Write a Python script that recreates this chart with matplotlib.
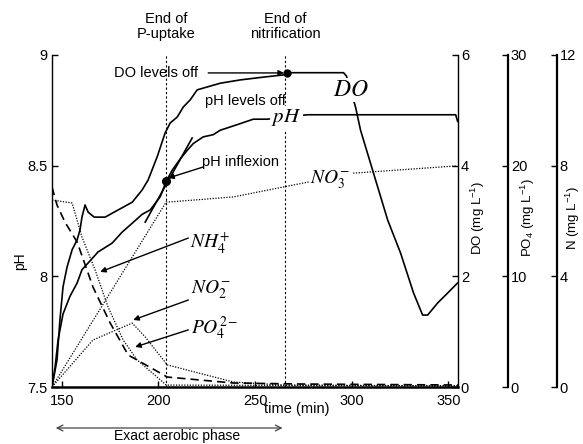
import matplotlib
matplotlib.use("Agg")
import matplotlib.pyplot as plt

plt.rcParams["font.family"] = ["Liberation Sans", "DejaVu Sans"]
plt.rcParams["mathtext.fontset"] = "stix"
plt.rcParams["font.size"] = 10.5

# DO (mg/L)
t_do = [145, 147.6, 149.1, 150.7, 152.8, 155.4, 158.0, 159.5, 160.5, 162.1, 163.7,
        166.8, 172.5, 176.1, 181.3, 186.5, 191.6, 194.7, 199.4, 203.5, 206.1, 209.8,
        212.9, 216.5, 220.1, 232.0, 242.4, 254.3, 264.7, 268.3, 295.8, 297.3, 302.0,
        304.6, 318.6, 325.3, 332.0, 336.7, 339.3, 344.5, 349.7, 354.8]
do = [0, 0.49, 1.21, 1.81, 2.17, 2.48, 2.66, 2.84, 3.07, 3.29, 3.16,
      3.07, 3.07, 3.14, 3.24, 3.34, 3.56, 3.74, 4.16, 4.59, 4.77, 4.88,
      5.06, 5.19, 5.37, 5.49, 5.55, 5.60, 5.64, 5.68, 5.68, 5.62, 5.06,
      4.64, 3.02, 2.42, 1.70, 1.30, 1.30, 1.52, 1.70, 1.88]

# pH
t_ph = [145, 146.6, 148.1, 150.7, 154.3, 158.0, 160.5, 164.7, 168.8, 176.1, 181.3,
        186.5, 191.6, 195.8, 201.0, 204.1, 207.2, 211.3, 215.0, 218.1, 223.2, 228.4,
        232.0, 242.4, 249.1, 256.4, 277.1, 353.8, 354.8]
ph = [7.5, 7.59, 7.71, 7.83, 7.91, 7.97, 8.03, 8.07, 8.11, 8.15, 8.20,
      8.24, 8.28, 8.30, 8.36, 8.43, 8.48, 8.53, 8.57, 8.60, 8.63, 8.64,
      8.66, 8.69, 8.71, 8.71, 8.73, 8.73, 8.70]

# PO4 (mg/L)
t_po4 = [145, 147.6, 151.7, 158.0, 166.2, 175.1, 184.4, 189.0, 201.0, 204.6, 238.8, 273.5, 355]
po4 = [18.07, 16.44, 14.9, 13.1, 9.03, 5.78, 2.89, 2.44, 1.26, 0.90, 0.36, 0.27, 0.18]

# N species (mg/L)
t_nh4 = [145, 155.4, 160.5, 167.3, 174.0, 181.8, 189.0, 204.1, 355]
nh4 = [6.76, 6.65, 5.42, 4.23, 2.89, 1.70, 0.98, 0.07, 0.04]
t_no2 = [145, 166.2, 186.5, 193.2, 204.6, 238.8, 264.7, 355]
no2 = [0, 1.70, 2.31, 1.81, 0.80, 0.18, 0.07, 0.04]
t_no3 = [145, 204.1, 206.2, 238.8, 264.7, 301.0, 353.8]
no3 = [0, 6.69, 6.69, 6.87, 7.23, 7.73, 7.99]

# event markers
t_p_uptake = 204.1
t_nitrif = 265.7
inflex = (204.1, 8.43)
tangent_t = [193.2, 217.5]
tangent_ph = [8.245, 8.625]
do_off = (266.5, 5.68)

fig = plt.figure(figsize=(5.83, 4.44), dpi=100)
ax = fig.add_axes([52 / 583, 1 - 387 / 444, 406 / 583, 332 / 444])
ax_do = ax.twinx()
ax_po4 = ax.twinx()
ax_n = ax.twinx()

ax.set_xlim(145, 355)
ax.set_ylim(7.5, 9)
ax.set_xticks([150, 200, 250, 300, 350])
ax.set_yticks([7.5, 8, 8.5, 9])
ax.set_yticklabels(["7.5", "8", "8.5", "9"])
ax.tick_params(direction="in", length=4, width=1, labelsize=10.5)
ax.tick_params(axis="x", pad=5)
ax.spines["top"].set_visible(False)
ax.spines["right"].set_visible(False)
ax.spines["bottom"].set_linewidth(1.8)
ax.spines["left"].set_linewidth(1.0)
ax.set_ylabel("pH", fontsize=10)
ax.yaxis.set_label_coords(-0.062, 0.38)

for a, lim, ticks, pos in [(ax_do, (0, 6), [0, 2, 4, 6], 1.0),
                           (ax_po4, (0, 30), [0, 10, 20, 30], 1 + 50 / 406),
                           (ax_n, (0, 12), [0, 4, 8, 12], 1 + 99 / 406)]:
    a.set_ylim(*lim)
    a.set_yticks(ticks)
    a.tick_params(direction="in", length=4, width=1, labelsize=10.5, pad=2)
    for s in ["top", "bottom", "left"]:
        a.spines[s].set_visible(False)
    a.spines["right"].set_position(("axes", pos))
    a.spines["right"].set_linewidth(1.0 if a is ax_do else 1.6)

ax_do.set_ylabel(r"DO (mg L$\mathregular{^{-1}}$)", fontsize=9.5)
ax_po4.set_ylabel(r"PO$\mathregular{_4}$ (mg L$\mathregular{^{-1}}$)", fontsize=9.5)
ax_n.set_ylabel(r"N (mg L$\mathregular{^{-1}}$)", fontsize=9.5)
ax_do.yaxis.set_label_coords(1.027, 0.51)
ax_po4.yaxis.set_label_coords(1.150, 0.51)
ax_n.yaxis.set_label_coords(1.260, 0.51)

# curves
ax.plot(t_ph, ph, color="k", lw=1.2)
ax.plot(tangent_t, tangent_ph, color="k", lw=1.2)
ax.plot(*inflex, "o", color="k", ms=5.5)
ax_do.plot(t_do, do, color="k", lw=1.2)
ax_do.plot(*do_off, "o", color="k", ms=5)
ax_po4.plot(t_po4, po4, color="k", lw=1.2, dashes=(5, 3))
ax_n.plot(t_nh4, nh4, color="k", lw=0.9, ls=(0, (1, 1.2)))
ax_n.plot(t_no2, no2, color="k", lw=0.9, ls=(0, (1, 1.2)))
ax_n.plot(t_no3, no3, color="k", lw=0.9, ls=(0, (1, 1.2)))

for tv in (t_p_uptake, t_nitrif):
    ax.axvline(tv, color="k", lw=0.8, ls=(0, (2, 2)))

xt = ax.get_xaxis_transform()
ax.text(t_p_uptake, 1.087, "End of\nP-uptake", transform=xt, ha="center", va="center",
        fontsize=10.5, linespacing=1.1)
ax.text(t_nitrif, 1.087, "End of\nnitrification", transform=xt, ha="center", va="center",
        fontsize=10.5, linespacing=1.1)

ax.text(0.603, -0.065, "time (min)", transform=ax.transAxes, ha="center", va="center", fontsize=10.5)
ax.annotate("", xy=(145.5, -0.1235), xytext=(265.7, -0.1235), xycoords=xt, textcoords=xt,
            arrowprops=dict(arrowstyle="<->", color="#444444", lw=0.9), annotation_clip=False)
ax.text(0.308, -0.147, "Exact aerobic phase", transform=ax.transAxes, ha="center",
        va="center", fontsize=10)

# labels on top axes, in pH data coordinates
T = ax.transData
wb = dict(facecolor="white", edgecolor="none", pad=1)
arrow = dict(arrowstyle="-|>", color="k", lw=1.0, mutation_scale=8, shrinkA=0, shrinkB=0)

ax_n.text(198.9, 8.919, "DO levels off", transform=T, ha="center", va="center", fontsize=10.5)
ax_n.annotate("", xy=(265.0, 8.919), xytext=(225.8, 8.919), xycoords=T, textcoords=T,
              arrowprops=arrow)
ax_n.text(245.0, 8.79, "pH levels off", transform=T, ha="center", va="center", fontsize=10.5)
ax_n.text(242.4, 8.517, "pH inflexion", transform=T, ha="center", va="center", fontsize=10.5)
ax_n.annotate("", xy=(205.1, 8.444), xytext=(223.2, 8.494), xycoords=T, textcoords=T,
              arrowprops=arrow)

ax_n.text(266.2, 8.716, "$pH$", transform=T, ha="center", va="center", fontsize=15, bbox=wb, zorder=5)
ax_n.text(299.4, 8.842, "$DO$", transform=T, ha="center", va="center", fontsize=17, bbox=wb, zorder=5)
ax_n.text(289.0, 8.435, "$NO_3^{-}$", transform=T, ha="center", va="center", fontsize=14, bbox=wb, zorder=5)
ax_n.text(226.9, 8.155, "$NH_4^{+}$", transform=T, ha="center", va="center", fontsize=14, bbox=wb, zorder=5)
ax_n.text(227.4, 7.938, "$NO_2^{-}$", transform=T, ha="center", va="center", fontsize=14, bbox=wb, zorder=5)
ax_n.text(228.9, 7.767, "$PO_4^{2-}$", transform=T, ha="center", va="center", fontsize=14, bbox=wb, zorder=5)

ax_n.annotate("", xy=(169.9, 8.020), xytext=(215.5, 8.173), xycoords=T, textcoords=T, arrowprops=arrow)
ax_n.annotate("", xy=(187.0, 7.803), xytext=(215.5, 7.893), xycoords=T, textcoords=T, arrowprops=arrow)
ax_n.annotate("", xy=(188.0, 7.681), xytext=(215.5, 7.758), xycoords=T, textcoords=T, arrowprops=arrow)

fig.savefig("out.png", dpi=100)
